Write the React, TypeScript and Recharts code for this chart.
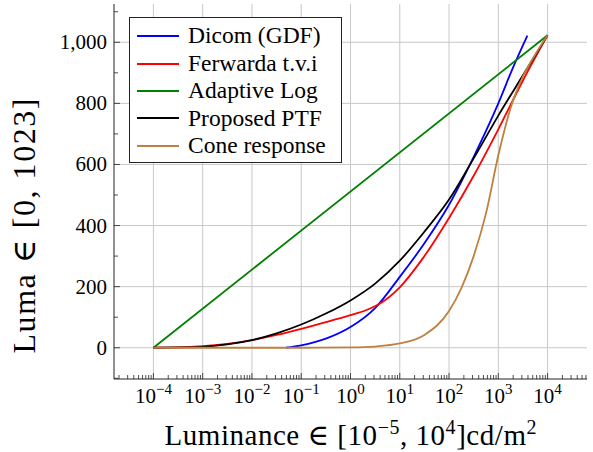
import React from 'react';
import { LineChart, Line, XAxis, YAxis, CartesianGrid, Legend } from 'recharts';

const FONT =
  '"Liberation Serif", "Times New Roman", Times, "Nimbus Roman", "Noto Serif", "DejaVu Serif", serif';
const AXIS = '#222';
const GRID = '#c8c8c8';

// Luminance given as log10(cd/m^2), luma values 0..1023
const dicomExp = [-1.31, -1, -0.5, 0, 0.5, 1, 1.5, 2, 2.5, 3, 3.3, 3.59];
const dicomLuma = [0, 8, 30, 68, 130, 232, 342, 468, 625, 800, 918, 1022];

const ferwardaExp = [-4, -3.5, -3, -2.5, -2, -1.5, -1, -0.5, 0, 0.3, 0.58, 1, 1.46, 2, 2.5, 3, 3.5, 4];
const ferwardaLuma = [0, 1, 5, 13, 25, 42, 62, 84, 107, 122, 143, 198, 291, 425, 563, 715, 875, 1023];

const adaptiveExp = [-4, 4];
const adaptiveLuma = [0, 1023];

const ptfExp = [-4, -3.5, -3, -2.5, -2, -1.5, -1, -0.5, 0, 0.5, 1, 1.5, 2, 2.5, 3, 3.5, 4];
const ptfLuma = [0, 1, 3, 11, 25, 47, 76, 112, 155, 210, 285, 380, 485, 620, 760, 892, 1023];

const coneExp = [-4, -2, -1, 0, 0.5, 1, 1.5, 2, 2.25, 2.5, 2.75, 3, 3.25, 3.5, 3.75, 4];
const coneLuma = [0, 0, 0, 1, 4, 14, 42, 120, 195, 300, 440, 630, 785, 888, 960, 1023];

const seriesNames = ['Dicom (GDF)', 'Ferwarda t.v.i', 'Adaptive Log', 'Proposed PTF', 'Cone response'];
const seriesColors = ['#0000ff', '#ff0000', '#008000', '#000000', '#bf8040'];

const xMajorExp = [-4, -3, -2, -1, 0, 1, 2, 3, 4];
const xDomainExp = [-4.8, 4.8];
const yMajorTicks = [0, 200, 400, 600, 800, 1000];
const yMinorTicks = [-100, 100, 300, 500, 700, 900, 1100];
const yDomain = [-102.3, 1125.3];

const toPoints = (exp: number[], luma: number[]) =>
  exp.map((e, i) => ({ x: Math.pow(10, e), y: luma[i] }));

const seriesData = [
  toPoints(dicomExp, dicomLuma),
  toPoints(ferwardaExp, ferwardaLuma),
  toPoints(adaptiveExp, adaptiveLuma),
  toPoints(ptfExp, ptfLuma),
  toPoints(coneExp, coneLuma),
];

const xMajorTicks = xMajorExp.map((e) => Math.pow(10, e));
const xDomain = [Math.pow(10, xDomainExp[0]), Math.pow(10, xDomainExp[1])];
const xAllTicks: number[] = [];
for (let n = -5; n <= 4; n++) {
  for (let k = 1; k <= 9; k++) {
    const v = k * Math.pow(10, n);
    if (v >= xDomain[0] && v <= xDomain[1]) xAllTicks.push(v);
  }
}
const yAllTicks = [...yMajorTicks, ...yMinorTicks].sort((a, b) => a - b);

const isMajorX = (v: number) => {
  const e = Math.log10(v);
  return Math.abs(e - Math.round(e)) < 1e-6;
};

const XTickBottom = (props: any) => {
  const { x, y, payload } = props;
  const v = payload.value;
  const major = isMajorX(v);
  const e = Math.round(Math.log10(v));
  return (
    <g>
      <line x1={x} x2={x} y1={y} y2={y - (major ? 6 : 4)} stroke={AXIS} strokeWidth={0.8} />
      {major && (
        <text x={x} y={y + 24} textAnchor="middle" fontFamily={FONT} fontSize={21} fill="#000">
          <tspan>10</tspan>
          <tspan dy={-9} fontSize={15}>{(e < 0 ? '\u2212' : '') + Math.abs(e)}</tspan>
        </text>
      )}
    </g>
  );
};

const XTickTop = (props: any) => {
  const { x, y, payload } = props;
  const major = isMajorX(payload.value);
  return <line x1={x} x2={x} y1={y} y2={y + (major ? 6 : 4)} stroke={AXIS} strokeWidth={0.8} />;
};

const YTickLeft = (props: any) => {
  const { x, y, payload } = props;
  const v = payload.value;
  const major = yMajorTicks.includes(v);
  return (
    <g>
      <line x1={x} x2={x + (major ? 6 : 4)} y1={y} y2={y} stroke={AXIS} strokeWidth={0.8} />
      {major && (
        <text x={x - 7} y={y + 7} textAnchor="end" fontFamily={FONT} fontSize={21} fill="#000">
          {v.toLocaleString('en-US')}
        </text>
      )}
    </g>
  );
};

const YTickRight = (props: any) => {
  const { x, y, payload } = props;
  const major = yMajorTicks.includes(payload.value);
  return <line x1={x} x2={x - (major ? 6 : 4)} y1={y} y2={y} stroke={AXIS} strokeWidth={0.8} />;
};

const XLabel = (props: any) => {
  const vb = props.viewBox;
  const cx = vb.x + vb.width / 2;
  return (
    <text
      x={cx}
      y={vb.y + 66}
      textAnchor="middle"
      fontFamily={FONT}
      fontSize={29}
      fill="#000"
      textLength={372}
      lengthAdjust="spacing"
    >
      <tspan>Luminance ∈ [10</tspan>
      <tspan dy={-11} fontSize={20}>−5</tspan>
      <tspan dy={11}>, 10</tspan>
      <tspan dy={-11} fontSize={20}>4</tspan>
      <tspan dy={11}>]cd/m</tspan>
      <tspan dy={-11} fontSize={20}>2</tspan>
    </text>
  );
};

const YLabel = () => {
  const cy = 226;
  const bx = 35;
  return (
    <text
      x={bx}
      y={cy}
      transform={`rotate(-90, ${bx}, ${cy})`}
      textAnchor="middle"
      fontFamily={FONT}
      fontSize={32}
      fill="#000"
      textLength={255}
      lengthAdjust="spacing"
    >
      Luma ∈ [0, 1023]
    </text>
  );
};

const renderLegend = () => (
  <div
    style={{
      border: `1px solid ${AXIS}`,
      background: '#fff',
      width: 213,
      height: 146,
      boxSizing: 'border-box',
      paddingTop: 4.5,
      fontFamily: FONT,
      fontSize: 23.5,
      color: '#000',
    }}
  >
    {seriesNames.map((name, i) => (
      <div key={name} style={{ height: 27.4, display: 'flex', alignItems: 'center' }}>
        <svg width={58} height={10} style={{ flex: 'none' }}>
          <line x1={7} x2={49} y1={5} y2={5} stroke={seriesColors[i]} strokeWidth={1.8} />
        </svg>
        <span style={{ lineHeight: 1, whiteSpace: 'nowrap' }}>{name}</span>
      </div>
    ))}
  </div>
);

export default function App() {
  return (
    <div style={{ position: 'absolute', left: 0, top: 0 }}>
      <LineChart width={593} height={452} margin={{ top: 4, right: 6, bottom: 0, left: 0 }}>
        <CartesianGrid
          stroke={GRID}
          strokeWidth={1}
          verticalValues={xMajorTicks}
          horizontalValues={yMajorTicks}
        />
        <XAxis
          dataKey="x"
          type="number"
          scale="log"
          domain={xDomain}
          allowDataOverflow
          ticks={xAllTicks}
          interval={0}
          height={73}
          tickSize={0}
          tickMargin={0}
          tickLine={false}
          tick={<XTickBottom />}
          axisLine={{ stroke: AXIS, strokeWidth: 1 }}
          label={{ content: <XLabel /> }}
        />
        <XAxis
          xAxisId="top"
          dataKey="x"
          type="number"
          scale="log"
          orientation="top"
          domain={xDomain}
          allowDataOverflow
          ticks={xAllTicks}
          interval={0}
          height={0}
          tickSize={0}
          tickMargin={0}
          tickLine={false}
          tick={<XTickTop />}
          axisLine={{ stroke: AXIS, strokeWidth: 1 }}
        />
        <YAxis
          type="number"
          domain={yDomain}
          allowDataOverflow
          ticks={yAllTicks}
          interval={0}
          width={114}
          tickSize={0}
          tickMargin={0}
          tickLine={false}
          tick={<YTickLeft />}
          axisLine={{ stroke: AXIS, strokeWidth: 1 }}
          label={{ content: <YLabel /> }}
        />
        <YAxis
          yAxisId="right"
          orientation="right"
          type="number"
          domain={yDomain}
          allowDataOverflow
          ticks={yAllTicks}
          interval={0}
          width={0}
          tickSize={0}
          tickMargin={0}
          tickLine={false}
          tick={<YTickRight />}
          axisLine={{ stroke: AXIS, strokeWidth: 1 }}
        />
        {seriesData.map((d, i) => (
          <Line
            key={seriesNames[i]}
            data={d}
            dataKey="y"
            name={seriesNames[i]}
            type="monotone"
            stroke={seriesColors[i]}
            strokeWidth={1.8}
            dot={false}
            activeDot={false}
            isAnimationActive={false}
          />
        ))}
        <Legend
          layout="vertical"
          align="center"
          verticalAlign="middle"
          content={renderLegend}
          wrapperStyle={{ left: 129, top: 17, width: 213, height: 146 }}
        />
      </LineChart>
    </div>
  );
}
